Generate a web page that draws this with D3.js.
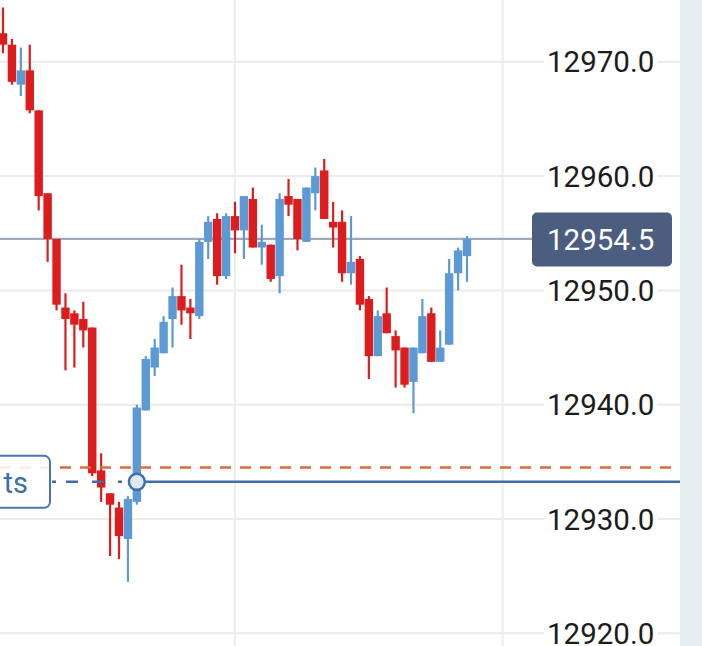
<!DOCTYPE html>
<html>
<head>
<meta charset="utf-8">
<script src="https://cdn.jsdelivr.net/npm/d3@7"></script>
<style>
  html, body { margin: 0; padding: 0; background: #ffffff; }
  svg { display: block; font-family: Roboto, "Noto Sans", sans-serif; }
</style>
</head>
<body>
<svg id="chart" width="702" height="646"></svg>
<script>
// ---- data (candles, left to right) ----
const opens  = [12972.5, 12971.5, 12968, 12969.25, 12965.75, 12958.5, 12954.5, 12948.5, 12948, 12947.5,
                12946.75, 12934.25, 12932.25, 12931, 12928.25, 12931.5, 12939.5, 12943.25, 12944.5, 12947.5,
                12949.5, 12948.5, 12947.75, 12954.25, 12956.25, 12951.25, 12956.5, 12955.25, 12958, 12953.75,
                12954, 12951.25, 12958.25, 12958, 12954.25, 12958.5, 12960.5, 12956, 12956, 12951.5,
                12952.75, 12949.25, 12944.25, 12948, 12946, 12945, 12942, 12944.5, 12948, 12943.75,
                12945.25, 12951.5, 12953];
const highs  = [12974.75, 12972, 12971.25, 12971.5, 12965.75, 12958.5, 12954.5, 12949.75, 12948.25, 12949,
                12946.75, 12935.75, 12932.25, 12931.5, 12932, 12940, 12944.25, 12945.75, 12947.75, 12950.25,
                12952.25, 12949.25, 12954.5, 12956.5, 12956.75, 12956.75, 12957.75, 12958.25, 12959, 12955.75,
                12954, 12958.5, 12959.75, 12958, 12959, 12960.75, 12961.5, 12957.75, 12957, 12956.5,
                12953, 12949.5, 12948.25, 12950.25, 12946.5, 12945, 12945, 12949.25, 12948.5, 12946.5,
                12952.75, 12953.75, 12954.75];
const lows   = [12970.75, 12968, 12967, 12965.5, 12957, 12952.5, 12948.25, 12943, 12943.25, 12945,
                12933.75, 12931.5, 12926.75, 12926.5, 12924.5, 12931.25, 12939.5, 12942.5, 12944.5, 12945,
                12947, 12945.75, 12947.5, 12952.75, 12950.5, 12951, 12953.25, 12952.75, 12953.75, 12952.25,
                12950.75, 12949.75, 12956.5, 12953.5, 12954.25, 12957, 12956.25, 12953.75, 12950.75, 12950.5,
                12948.25, 12942.25, 12944.25, 12946.25, 12941.5, 12941.5, 12939.25, 12944.5, 12943.75, 12943.75,
                12945.25, 12950, 12950.75];
const closes = [12971.5, 12968.25, 12969.25, 12965.75, 12958.25, 12954.5, 12948.75, 12947.5, 12947, 12946.5,
                12934, 12932.75, 12931.25, 12928.5, 12931.75, 12939.75, 12944, 12945, 12947.25, 12949.5,
                12948.25, 12948, 12954.25, 12956, 12951.25, 12956.5, 12955.25, 12958.25, 12953.75, 12954.25,
                12951, 12958, 12957.5, 12954.5, 12959, 12960, 12956.25, 12955.5, 12951.5, 12952.5,
                12948.75, 12944.25, 12947.75, 12946.25, 12944.75, 12941.75, 12945, 12947.75, 12943.75, 12945,
                12951.5, 12953.5, 12954.5];

const yTicks = [12920, 12930, 12940, 12950, 12960, 12970];
const timeGridIdx = [26, 56];          // vertical time grid lines (candle slots)
const orangeLevel = 12934.5;           // dashed orange level
const blueLevel = 12933.25;            // blue order level
const blueAnchorIdx = 15;              // candle where the blue level starts
const blueLabel = "ts";                // visible (clipped) label text

// ---- scales ----
const W = 702, H = 646, plotRight = 680;
const x = d3.scaleLinear().domain([0, opens.length - 1]).range([3, 467]);
const y = d3.scaleLinear().domain([12920, 12970]).range([633.3, 61.8]);
const bodyW = 8.4;

const svg = d3.select("#chart");
svg.append("rect").attr("width", W).attr("height", H).attr("fill", "#ffffff");
svg.append("rect").attr("x", plotRight).attr("y", 0).attr("width", W - plotRight).attr("height", H).attr("fill", "#e7eef1");

// grid
svg.append("g").selectAll("line").data(yTicks).join("line")
  .attr("x1", 0).attr("x2", plotRight)
  .attr("y1", d => y(d)).attr("y2", d => y(d))
  .attr("stroke", "#ebebeb").attr("stroke-width", 2);
svg.append("g").selectAll("line").data(timeGridIdx).join("line")
  .attr("x1", d => x(d)).attr("x2", d => x(d))
  .attr("y1", 0).attr("y2", H)
  .attr("stroke", "#ededed").attr("stroke-width", 2);

// current price line
const last = closes[closes.length - 1];
svg.append("line")
  .attr("x1", 0).attr("x2", 532)
  .attr("y1", y(last)).attr("y2", y(last))
  .attr("stroke", "#9fa9b7").attr("stroke-width", 2.2);

// candles
const data = opens.map((o, i) => ({i, o, h: highs[i], l: lows[i], c: closes[i]}));
const red = "#dd1d1d", blue = "#5b9ad5";
const cg = svg.append("g");
cg.selectAll("line").data(data).join("line")
  .attr("x1", d => x(d.i)).attr("x2", d => x(d.i))
  .attr("y1", d => y(d.h)).attr("y2", d => y(d.l))
  .attr("stroke", d => d.c >= d.o ? blue : red).attr("stroke-width", 2.2);
cg.selectAll("rect").data(data).join("rect")
  .attr("x", d => x(d.i) - bodyW / 2).attr("width", bodyW)
  .attr("y", d => y(Math.max(d.o, d.c)))
  .attr("height", d => Math.max(1.5, Math.abs(y(d.o) - y(d.c))))
  .attr("fill", d => d.c >= d.o ? blue : red);

// orange dashed level
svg.append("line")
  .attr("x1", 0).attr("x2", plotRight)
  .attr("y1", y(orangeLevel)).attr("y2", y(orangeLevel))
  .attr("stroke", "#e0693c").attr("stroke-width", 2.5)
  .attr("stroke-dasharray", "11,9");

// blue level
const by = y(blueLevel), bx = x(blueAnchorIdx);
svg.append("line")
  .attr("x1", bx).attr("x2", plotRight)
  .attr("y1", by).attr("y2", by)
  .attr("stroke", "#3f6fa6").attr("stroke-width", 2.5);
svg.append("line")
  .attr("x1", 52).attr("x2", bx - 8)
  .attr("y1", by).attr("y2", by)
  .attr("stroke", "#3f6fa6").attr("stroke-width", 2.5)
  .attr("stroke-dasharray", "4,10,12,14,12,14");
svg.append("rect")
  .attr("x", -60).attr("y", by - 26).attr("width", 110).attr("height", 52).attr("rx", 6)
  .attr("fill", "rgba(255,255,255,0.88)").attr("stroke", "#4676ae").attr("stroke-width", 2);
svg.append("text")
  .attr("x", 28).attr("y", by + 11).attr("text-anchor", "end")
  .attr("font-size", 29).attr("fill", "#3f6fa6").text(blueLabel);
svg.append("circle")
  .attr("cx", bx).attr("cy", by).attr("r", 8)
  .attr("fill", "#dfe9f4").attr("stroke", "#3f6fa6").attr("stroke-width", 2.5);

// y-axis labels
const fmt = d3.format(".1f");
const ax = svg.append("g").attr("transform", "translate(547,0)")
  .call(d3.axisRight(y).tickValues(yTicks).tickFormat(fmt).tickSize(0).tickPadding(0));
ax.select(".domain").remove();
ax.selectAll(".tick text")
  .attr("x", 0).attr("dy", null).attr("y", 0)
  .attr("dominant-baseline", "central")
  .attr("text-anchor", "start")
  .attr("font-family", "Roboto, sans-serif")
  .attr("font-size", 29.5).attr("fill", "#1c1c1c");
ax.selectAll(".tick").insert("rect", "text")
  .attr("x", -3).attr("y", -13).attr("width", 114).attr("height", 26).attr("fill", "#ffffff");

// current price badge
const pg = svg.append("g");
pg.append("rect")
  .attr("x", 532).attr("y", y(last) - 26.5).attr("width", 140).attr("height", 54).attr("rx", 5)
  .attr("fill", "#4b5e7f");
pg.append("text")
  .attr("x", 547).attr("y", y(last) + 1).attr("dominant-baseline", "central")
  .attr("font-size", 29.5).attr("fill", "#ffffff").text(fmt(last));
</script>
</body>
</html>
